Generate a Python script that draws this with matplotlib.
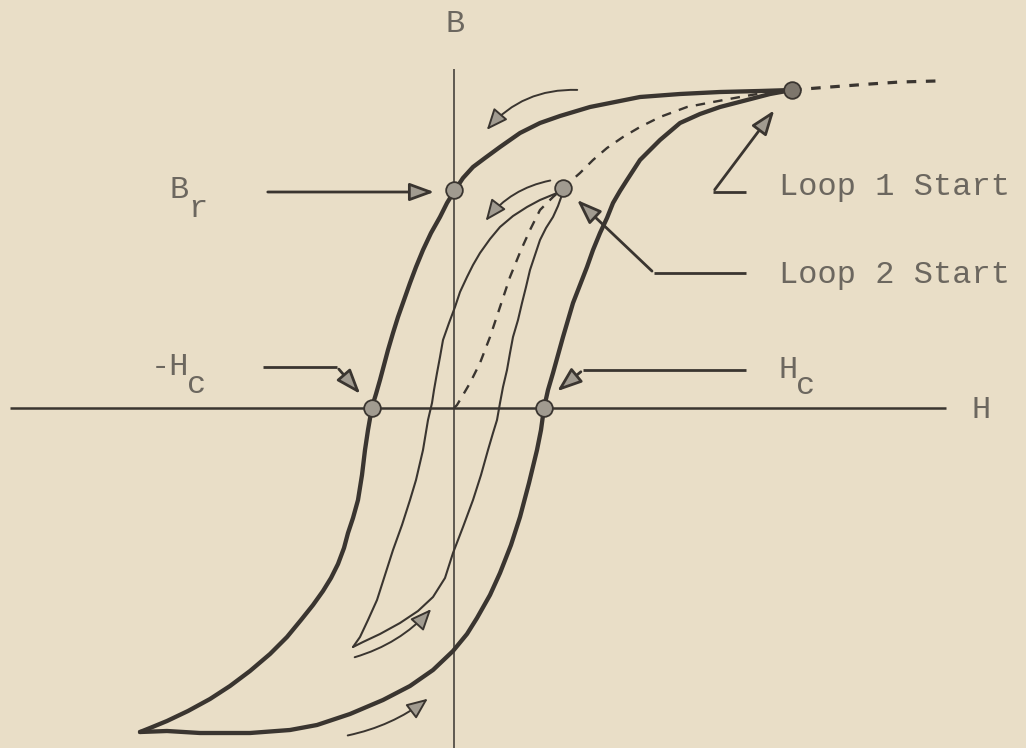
import matplotlib
matplotlib.use("Agg")
import matplotlib.pyplot as plt
from matplotlib.patches import FancyArrowPatch

# ---------------- data (H, B in arbitrary units, origin at axes crossing) -------------
outer_desc_H = [338, 306, 266, 226, 186, 136, 106, 86, 66, 46, 31, 19, 9, 1, -7, -14, -23, -31, -38, -44,
                -50, -56, -61, -66, -70, -74, -78, -82, -86, -89, -92, -96, -101, -106, -110, -116, -123,
                -131, -141, -153, -167, -184, -204, -224, -244, -266, -287, -304, -314]
outer_desc_B = [318, 317, 316, 314, 311, 301, 292, 285, 275, 261, 250, 241, 230, 218, 205, 191, 175, 158,
                141, 125, 108, 91, 75, 58, 43, 28, 14, 1, -22, -42, -67, -92, -110, -125, -140, -156, -170,
                -183, -197, -212, -229, -246, -263, -278, -291, -303, -313, -320, -324]

outer_asc_H = [-314, -287, -254, -204, -164, -137, -104, -71, -44, -21, -1, 13, 23, 36, 46, 57, 66, 75, 83,
               87, 90, 94, 99, 104, 109, 114, 119, 126, 133, 139, 146, 153, 159, 166, 173, 186, 206, 226,
               246, 266, 293, 316, 338]
outer_asc_B = [-324, -323, -325, -325, -322, -317, -306, -292, -278, -262, -243, -226, -210, -187, -165,
               -137, -109, -75, -42, -22, 0, 18, 35, 53, 71, 88, 105, 123, 141, 158, 175, 190, 205, 217,
               228, 248, 268, 285, 294, 301, 308, 314, 318]

initial_H = [0, 3, 9, 16, 26, 36, 46, 56, 67, 76, 86, 99, 109, 126, 139, 153, 169, 186, 206, 233, 259,
             286, 309, 338]
initial_B = [0, 3, 13, 25, 45, 71, 101, 131, 158, 178, 198, 211, 220, 235, 248, 260, 271, 281, 291, 301,
             306, 311, 315, 318]

extension_H = [338, 376, 416, 446, 482]
extension_B = [318, 321, 324, 326, 327]

inner_desc_H = [109, 103, 86, 73, 59, 46, 36, 26, 19, 13, 6, 1, -5, -11, -14, -17, -20, -22, -26, -31,
                -38, -44, -52, -61, -69, -77, -86, -94, -101]
inner_desc_B = [218, 215, 208, 201, 192, 181, 169, 155, 143, 131, 116, 101, 85, 68, 51, 35, 18, 5, -12,
                -42, -72, -92, -117, -142, -167, -192, -212, -229, -239]

inner_asc_H = [-101, -91, -74, -54, -36, -21, -9, -1, 9, 19, 27, 34, 39, 43, 46, 49, 53, 56, 59, 64, 68,
               72, 76, 81, 86, 92, 99, 104, 109]
inner_asc_B = [-239, -234, -226, -215, -203, -189, -170, -145, -119, -92, -67, -42, -25, -12, 5, 21, 38,
               55, 71, 88, 105, 121, 138, 153, 168, 180, 191, 202, 216]

# marked points
point_names = ["Bsat", "Br", "Loop2", "-Hc", "Hc"]
point_H = [338, 0, 109, -82, 90]
point_B = [318, 218, 220, 0, 0]

# direction arrows: (start H, start B, end H, end B, curvature)
dir_arrows = [
    (126, 318, 31, 276, 0.25),
    (99, 228, 30, 185, 0.2),
    (-102, -250, -21, -199, 0.15),
    (-109, -328, -24, -289, 0.12),
]

# annotation pointer polylines (last point is arrow tip)
pointers = [
    ([-189, -17], [216, 216]),
    ([292, 259, 322], [216, 216, 300]),
    ([292, 200, 121], [135, 135, 210]),
    ([-191, -117, -92], [41, 41, 12]),
    ([292, 129, 101], [38, 38, 15]),
]

# ---------------- style ----------------
BG = "#e9dec7"
INK = "#3a3530"
TXT = "#6c675f"
FILL = "#a19b90"
FONT = "Liberation Mono"

fig = plt.figure(figsize=(10.26, 7.48), dpi=100)
fig.patch.set_facecolor(BG)
ax = fig.add_axes([0, 0, 1, 1])
ax.set_facecolor(BG)
ax.set_xlim(-454, 572)
ax.set_ylim(-340, 408)
ax.axis("off")

# axes lines
ax.plot([-444, 492], [0, 0], color=INK, lw=1.8, solid_capstyle="butt", zorder=2)
ax.plot([0, 0], [339, -345], color=INK, lw=1.1, solid_capstyle="butt", zorder=2)

# curves
kw_thick = dict(color=INK, lw=3.1, solid_joinstyle="round", solid_capstyle="round", zorder=3)
kw_thin = dict(color=INK, lw=1.5, solid_joinstyle="round", solid_capstyle="round", zorder=3)
ax.plot(outer_desc_H, outer_desc_B, **kw_thick)
ax.plot(outer_asc_H, outer_asc_B, **kw_thick)
ax.plot(initial_H, initial_B, color=INK, lw=1.7, ls=(0, (4, 3.5)), zorder=3)
ax.plot(extension_H, extension_B, color=INK, lw=2.3, ls=(0, (3, 3)), zorder=3)
ax.plot(inner_desc_H, inner_desc_B, **kw_thin)
ax.plot(inner_asc_H, inner_asc_B, **kw_thin)

# direction arrows
for h0, b0, h1, b1, rad in dir_arrows:
    arr = FancyArrowPatch((h0, b0), (h1, b1), connectionstyle=f"arc3,rad={rad}",
                          arrowstyle="-|>,head_length=13,head_width=5.5", mutation_scale=1,
                          lw=1.4, edgecolor=INK, facecolor=FILL, zorder=4)
    ax.add_patch(arr)

# pointers
for hs, bs in pointers:
    if len(hs) > 2:
        ax.plot(hs[:-1], bs[:-1], color=INK, lw=2.0, solid_capstyle="butt", zorder=4)
    arr = FancyArrowPatch((hs[-2], bs[-2]), (hs[-1], bs[-1]),
                          arrowstyle="-|>,head_length=15,head_width=5.5", mutation_scale=1,
                          lw=2.0, edgecolor=INK, facecolor=FILL, zorder=4)
    ax.add_patch(arr)

# points
for name, h, b in zip(point_names, point_H, point_B):
    fc = "#7d766c" if name == "Bsat" else FILL
    ax.plot([h], [b], marker="o", ms=12, mfc=fc, mec=INK, mew=1.3, zorder=5)

# labels
ts = 23
ax.text(1, 384, "B", fontsize=ts, family=FONT, color=TXT, ha="center", va="center")
ax.text(527, -2, "H", fontsize=ts, family=FONT, color=TXT, ha="center", va="center")
ax.text(-275, 218, "B", fontsize=ts, family=FONT, color=TXT, ha="center", va="center")
ax.text(-256, 199, "r", fontsize=ts, family=FONT, color=TXT, ha="center", va="center")
ax.text(-284, 41, "-H", fontsize=ts, family=FONT, color=TXT, ha="center", va="center")
ax.text(-257, 23, "c", fontsize=ts, family=FONT, color=TXT, ha="center", va="center")
ax.text(334, 38, "H", fontsize=ts, family=FONT, color=TXT, ha="center", va="center")
ax.text(352, 22, "c", fontsize=ts, family=FONT, color=TXT, ha="center", va="center")
ax.text(325, 221, "Loop 1 Start", fontsize=ts, family=FONT, color=TXT, ha="left", va="center")
ax.text(325, 133, "Loop 2 Start", fontsize=ts, family=FONT, color=TXT, ha="left", va="center")

fig.savefig("out.png", dpi=100, facecolor=BG)
